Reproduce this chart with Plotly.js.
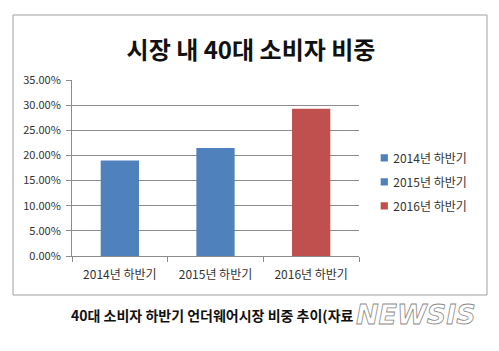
<!DOCTYPE html>
<html>
<head>
<meta charset="utf-8">
<script src="https://cdn.plot.ly/plotly-3.0.1.min.js"></script>
<style>
html,body{margin:0;padding:0;background:#fff;}
#chart{width:499px;height:351px;}
</style>
</head>
<body>
<div id="chart"></div>
<script>
const categories = ["2014년 하반기", "2015년 하반기", "2016년 하반기"];
const seriesNames = ["2014년 하반기", "2015년 하반기", "2016년 하반기"];
const shares = [0.19, 0.215, 0.293];
const seriesColors = ["#4F81BD", "#4F81BD", "#C0504D"];
const yTickVals = [0, 0.05, 0.10, 0.15, 0.20, 0.25, 0.30, 0.35];
const chartTitle = "시장 내 40대 소비자 비중";
const caption = "40대 소비자 하반기 언더웨어시장 비중 추이(자료";
const watermark = "NEWSIS";

const FONT = "'Noto Sans CJK KR', 'Noto Sans', sans-serif";

const traces = categories.map((c, i) => ({
  type: 'bar',
  x: [c],
  y: [shares[i]],
  name: seriesNames[i],
  legendgroup: 'g' + i,
  marker: {color: seriesColors[i], line: {width: 0}},
  hoverinfo: 'skip'
}));

const layout = {
  width: 499, height: 351,
  margin: {l: 72, r: 140, t: 80, b: 95, pad: 0},
  paper_bgcolor: '#ffffff',
  plot_bgcolor: '#ffffff',
  barmode: 'overlay',
  bargap: 0.6,
  font: {family: FONT, color: '#333333'},
  title: {
    text: chartTitle,
    font: {family: FONT, size: 24, color: '#111111', weight: 'bold'},
    x: 251 / 499, xref: 'container', xanchor: 'center',
    y: 1 - 51 / 351, yref: 'container', yanchor: 'middle'
  },
  xaxis: {
    type: 'category',
    showgrid: false,
    showline: true, linecolor: '#8c8c8c', linewidth: 1,
    ticks: 'outside', tickson: 'boundaries', ticklen: 5, tickcolor: '#8c8c8c',
    ticklabelstandoff: 8,
    tickfont: {family: FONT, size: 12, color: '#333333'},
    fixedrange: true
  },
  yaxis: {
    range: [0, 0.35],
    tickvals: yTickVals,
    tickformat: '.2%',
    showgrid: true, gridcolor: '#8c8c8c', gridwidth: 1,
    showline: true, linecolor: '#8c8c8c', linewidth: 1,
    zeroline: false,
    ticks: 'outside', ticklen: 5, tickcolor: '#8c8c8c',
    ticklabelstandoff: 3,
    tickfont: {family: FONT, size: 11, color: '#333333'},
    fixedrange: true
  },
  showlegend: true,
  legend: {
    x: 0.98, xanchor: 'left',
    y: 0.64, yanchor: 'top',
    font: {family: FONT, size: 12, color: '#333333'},
    bgcolor: 'rgba(0,0,0,0)',
    tracegroupgap: 5,
    itemwidth: 30
  },
  shapes: [{
    type: 'rect', xref: 'paper', yref: 'paper',
    x0: (13 - 72) / 287, x1: (487 - 72) / 287,
    y0: (256 - 295) / 176, y1: (256 - 15) / 176,
    line: {color: '#a0a0a0', width: 1},
    fillcolor: 'rgba(0,0,0,0)',
    layer: 'below'
  }],
  annotations: [{
    text: '<b>' + caption + '</b>',
    xref: 'paper', yref: 'paper',
    x: (69 - 72) / 287, xanchor: 'left',
    y: (256 - 315) / 176, yanchor: 'middle',
    showarrow: false,
    font: {family: FONT, size: 14, color: '#111111'}
  }, {
    text: '<b><i><span style="fill:#ffffff;stroke:#8a8a8a;stroke-width:0.8px">' + watermark + '</span></i></b>',
    xref: 'paper', yref: 'paper',
    x: (416 - 72) / 287, xanchor: 'center',
    y: (256 - 314) / 176, yanchor: 'middle',
    showarrow: false,
    font: {family: "'DejaVu Sans', sans-serif", size: 27, color: '#ffffff'}
  }]
};

Plotly.newPlot('chart', traces, layout, {displayModeBar: false, staticPlot: true}).then(gd => {
  gd.querySelectorAll('.legend .legendpoints path').forEach(p => {
    const t = p.getAttribute('transform') || '';
    p.setAttribute('transform', t + ' translate(11,0) scale(0.6)');
  });
});
</script>
</body>
</html>
